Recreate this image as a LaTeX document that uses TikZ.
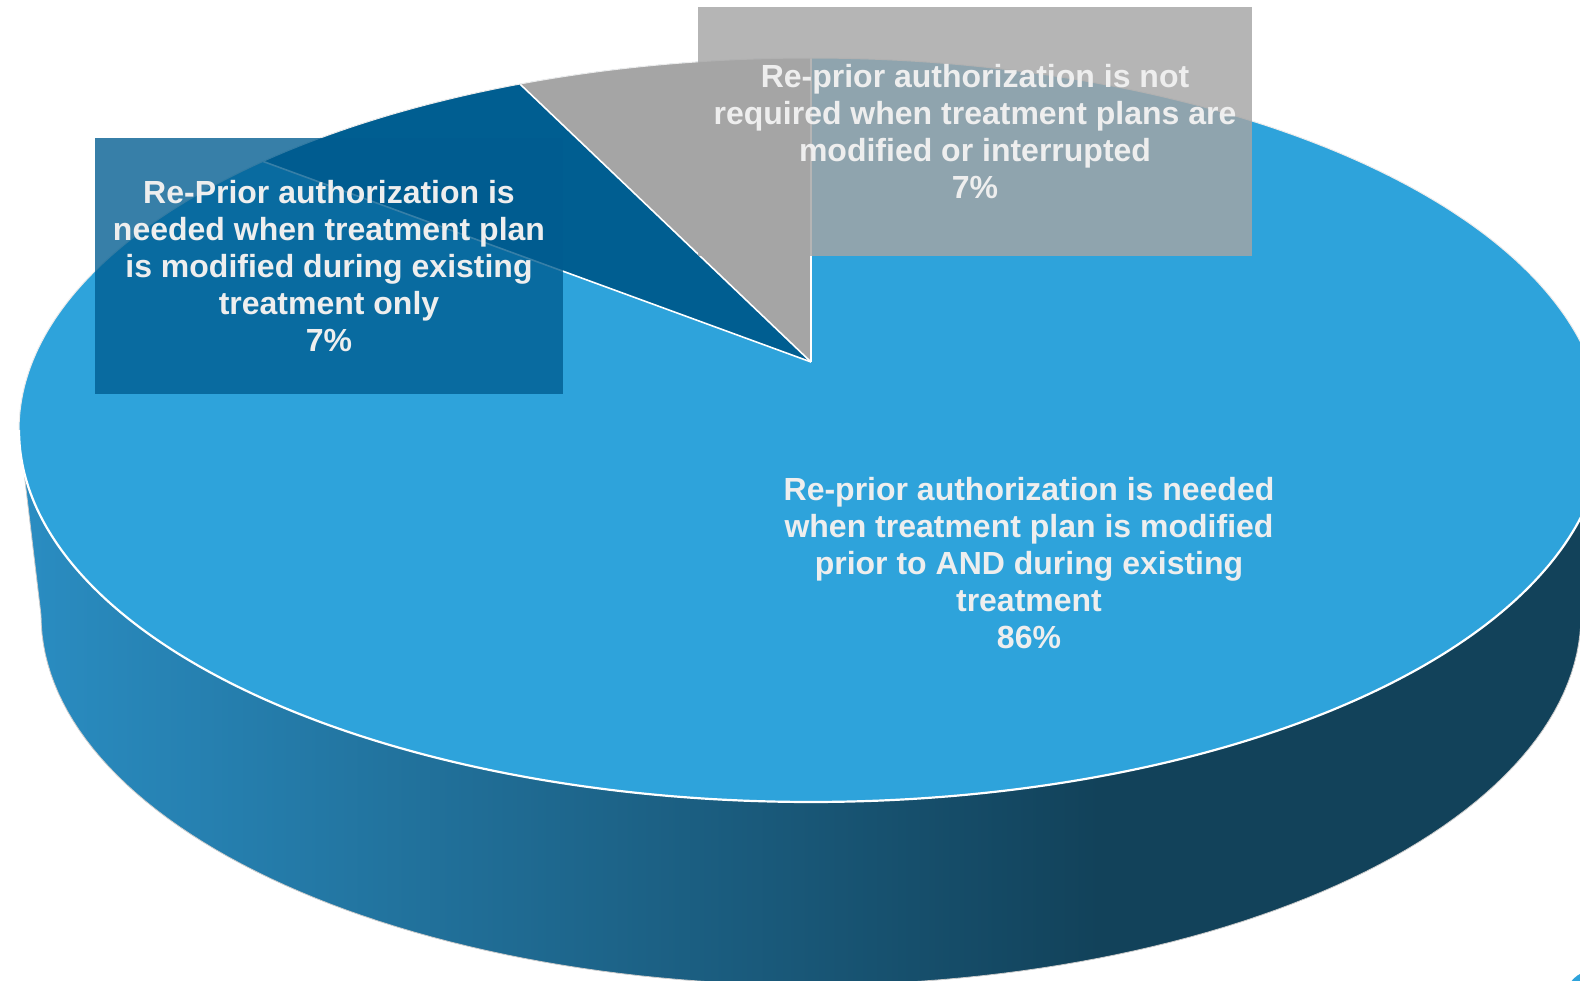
\documentclass[tikz,border=0pt]{standalone}
\usepackage{fontspec}
\setmainfont{Liberation Sans}
\definecolor{topblue}{RGB}{46,163,219}
\definecolor{darkslice}{RGB}{0,94,145}
\definecolor{grayslice}{RGB}{165,165,165}
\definecolor{sideL}{RGB}{42,141,194}
\definecolor{sideR}{RGB}{18,66,90}
\definecolor{boxA}{RGB}{0,92,144}
\definecolor{boxB}{RGB}{165,165,165}
\definecolor{txt}{RGB}{238,238,238}
\tikzset{
  lbl/.style={text=txt, font=\bfseries\fontsize{32}{37}\selectfont, align=center, inner sep=0pt},
  lblbox/.style={lbl, text opacity=1, minimum width=#1, minimum height=256pt},
  edge/.style={draw=white, line width=1.6pt, line join=round},
}
\begin{document}
\begin{tikzpicture}[x=1pt,y=-1pt]
\useasboundingbox (0,0) rectangle (1580,981);
\begin{scope}
\clip (0,0) rectangle (1580,981);
% side of the pie
\begin{scope}
\clip (1603,430) -- (1581,615)
  -- plot[domain=0:180,samples=120] ({811+770*cos(\x)},{615+370*sin(\x)})
  -- (19,430)
  -- plot[domain=180:0,samples=120] ({811+792*cos(\x)},{430+372*sin(\x)}) -- cycle;
\shade[left color=sideL, right color=sideR] (19,400) rectangle (1100,1000);
\fill[sideR] (1099,400) rectangle (1620,1000);
\end{scope}
\draw[gray!40, line width=0.8pt] (1603,430) -- (1581,615)
  -- plot[domain=0:180,samples=120] ({811+770*cos(\x)},{615+370*sin(\x)})
  -- (19,430);
% top face (main slice)
\fill[topblue] plot[domain=0:360,samples=240] ({811+792*cos(\x)},{430+372*sin(\x)}) -- cycle;
% dark slice
\coordinate (apex) at (811,362);
\coordinate (pA) at ({811+792*cos(226.22)},{430+372*sin(226.22)});
\coordinate (pB) at ({811+792*cos(248.44)},{430+372*sin(248.44)});
\coordinate (pC) at (811,58);
\fill[darkslice] (apex) -- (pA) -- plot[domain=226.22:248.44,samples=40] ({811+792*cos(\x)},{430+372*sin(\x)}) -- cycle;
\fill[grayslice] (apex) -- (pB) -- plot[domain=248.44:270,samples=40] ({811+792*cos(\x)},{430+372*sin(\x)}) -- cycle;
\draw[edge] (apex) -- (pA);
\draw[edge] (apex) -- (pB);
\draw[edge] (apex) -- (pC);
\draw[white, line width=2.2pt] plot[domain=0:180,samples=240] ({811+792*cos(\x)},{430+372*sin(\x)});
\draw[white!85!gray, line width=1pt] plot[domain=180:360,samples=240] ({811+792*cos(\x)},{430+372*sin(\x)});
% small corner fragment
\fill[topblue] (1592,997) circle[radius=26];
% labels
\node[lblbox=468pt, fill=boxA, fill opacity=0.785] (lA) at (329,266)
  {Re-Prior authorization is\\needed when treatment plan\\is modified during existing\\treatment only\\7\%};
\node[lblbox=554pt, fill=boxB, fill opacity=0.82, minimum height=249pt] (lB) at (975,131.5)
  {Re-prior authorization is not\\required when treatment plans are\\modified or interrupted\\7\%};
\node[lbl] (lC) at (1029,563)
  {Re-prior authorization is needed\\when treatment plan is modified\\prior to AND during existing\\treatment\\86\%};
\end{scope}
\end{tikzpicture}
\end{document}
